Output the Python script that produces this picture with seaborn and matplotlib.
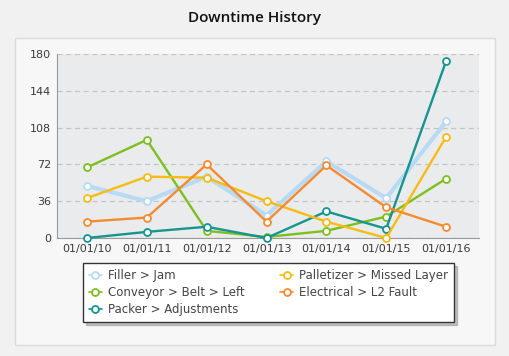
import pandas as pd
import matplotlib.pyplot as plt
import seaborn as sns
from matplotlib.patches import Rectangle

# data
dates = ['01/01/10', '01/01/11', '01/01/12', '01/01/13', '01/01/14', '01/01/15', '01/01/16']
filler = [51, 36, 60, 22, 75, 39, 114]
conveyor = [69, 96, 7, 1, 7, 21, 58]
packer = [0, 6, 11, 0, 26, 9, 173]
palletizer = [39, 60, 59, 36, 16, 0, 99]
electrical = [16, 20, 72, 16, 71, 30, 11]

series_names = ['Filler > Jam', 'Conveyor > Belt > Left', 'Packer > Adjustments',
                'Palletizer > Missed Layer', 'Electrical > L2 Fault']
series_values = [filler, conveyor, packer, palletizer, electrical]
colors = ['#b8daf4', '#7dbf1e', '#16958f', '#f8bb14', '#f68a30']
widths = [3.0, 1.7, 1.7, 1.7, 1.7]

rows = []
for name, vals in zip(series_names, series_values):
    for i, v in enumerate(vals):
        rows.append({'pos': i, 'value': v, 'series': name})
df = pd.DataFrame(rows)

sns.set_style('white')
plt.rcParams['font.family'] = ['DejaVu Sans']

fig = plt.figure(figsize=(5.09, 3.56), dpi=100, facecolor='#f1f1f1')

# light panel behind the chart
fig.patches.append(Rectangle((15 / 509, 1 - 345 / 356), 480 / 509, 307 / 356,
                             transform=fig.transFigure, facecolor='#f7f7f7',
                             edgecolor='#dcdcdc', linewidth=1, zorder=-1))

fig.text(0.5, 1 - 18 / 356, 'Downtime History', ha='center', va='center',
         fontsize=11, family=['Open Sans', 'DejaVu Sans'], fontweight='semibold',
         color='#111111')

ax = fig.add_axes([57 / 509, 1 - 238 / 356, 422 / 509, 184 / 356])
ax.set_facecolor('#eaebed')

palette = dict(zip(series_names, colors))
for name, lw in zip(series_names, widths):
    sub = df[df['series'] == name]
    sns.lineplot(data=sub, x='pos', y='value', ax=ax, color=palette[name],
                 linewidth=lw, marker='o', markersize=5, markerfacecolor='white',
                 markeredgecolor=palette[name], markeredgewidth=1.3, label=name,
                 clip_on=False, zorder=3)

ax.set_xlim(-0.5, 6.55)
ax.set_ylim(0, 180)
ax.set_yticks([0, 36, 72, 108, 144, 180])
ax.set_xticks(range(len(dates)))
ax.set_xticklabels(dates)
ax.set_xlabel('')
ax.set_ylabel('')
ax.tick_params(axis='both', labelsize=8, colors='#3a3a3a', length=0, pad=4)
ax.grid(axis='y', linestyle=(0, (4, 3)), color='#c4c4c4', linewidth=0.9)
ax.grid(axis='x', visible=False)
for side in ['top', 'right']:
    ax.spines[side].set_visible(False)
ax.spines['left'].set_color('#9a9a9a')
ax.spines['bottom'].set_color('#9a9a9a')

handles, labels = ax.get_legend_handles_labels()
if ax.legend_:
    ax.legend_.remove()
leg = fig.legend(handles, labels, ncol=2, loc='lower left',
                 bbox_to_anchor=(77 / 509, 1 - 328 / 356, 383 / 509, 59 / 356),
                 mode='expand', fontsize=8.5, frameon=True, fancybox=False,
                 edgecolor='#333333', facecolor='white', shadow={'ox': 2, 'oy': -2, 'alpha': 0.3},
                 handlelength=1.1, handletextpad=0.5, borderpad=0.5,
                 labelspacing=0.35, labelcolor='#444444')
leg.get_frame().set_linewidth(1)
for h in leg.legend_handles:
    h.set_linewidth(1.2)
    h.set_markersize(5)

fig.savefig('out.png', dpi=100, facecolor=fig.get_facecolor())
